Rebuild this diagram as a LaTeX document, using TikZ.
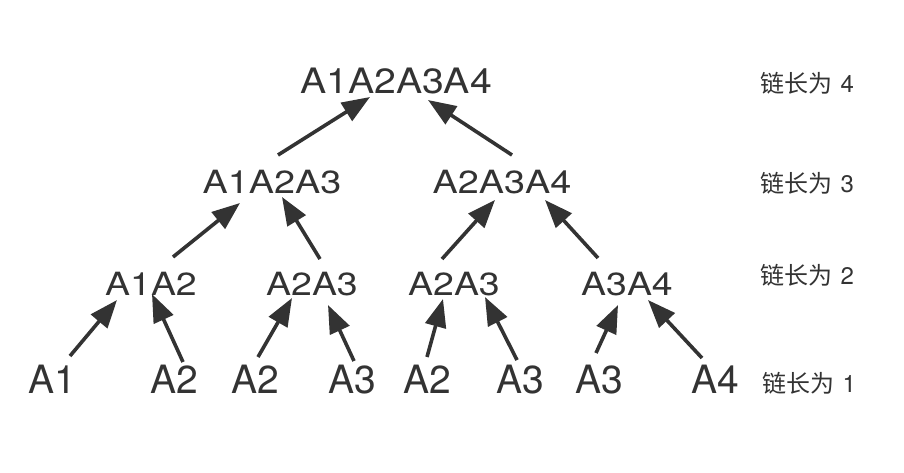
\documentclass[tikz,border=0pt]{standalone}
\usepackage{fontspec}
\setmainfont{TeX Gyre Heros}
\newfontfamily\cjk{Noto Sans CJK SC}
\usetikzlibrary{arrows.meta,calc}
\definecolor{ink}{HTML}{333333}
\newcommand{\chainlab}[1]{{\cjk 链长为}\hspace{8.5pt}{\fontsize{24}{24}\selectfont #1}}
\tikzset{
  lvl1/.style={anchor=base,inner sep=0pt,text=ink,font=\fontsize{39}{39}\selectfont},
  lvlup/.style={anchor=base,inner sep=0pt,text=ink,font=\fontsize{32}{32}\selectfont},
  lvltop/.style={anchor=base,inner sep=0pt,text=ink,font=\fontsize{35}{35}\selectfont},
  lab/.style={anchor=base west,inner sep=0pt,text=ink,font=\fontsize{24}{24}\selectfont},
  arr/.style={draw=ink,line width=3.6pt,-{Triangle[length=28pt,width=21pt]}}
}
\begin{document}
\begin{tikzpicture}[x=1pt,y=-1pt]
\useasboundingbox (0,0) rectangle (904,472);
% level 4
\node[lvltop] (t) at (396,93) {\scalebox{1.12}[1]{A1A2A3A4}};
% level 3
\node[lvlup] (m1) at (272,193) {\scalebox{1.18}[1]{A1A2A3}};
\node[lvlup] (m2) at (502,193) {\scalebox{1.18}[1]{A2A3A4}};
% level 2
\node[lvlup] (p1) at (151,295) {\scalebox{1.17}[1]{A1A2}};
\node[lvlup] (p2) at (312,295) {\scalebox{1.17}[1]{A2A3}};
\node[lvlup] (p3) at (454,295) {\scalebox{1.17}[1]{A2A3}};
\node[lvlup] (p4) at (627,295) {\scalebox{1.17}[1]{A3A4}};
% level 1
\node[lvl1] (b1) at (52,393) {A1};
\node[lvl1] (b2) at (174,393) {A2};
\node[lvl1] (b3) at (255,393) {A2};
\node[lvl1] (b4) at (352,393) {A3};
\node[lvl1] (b5) at (427,393) {A2};
\node[lvl1] (b6) at (520,393) {A3};
\node[lvl1] (b7) at (599,393) {A3};
\node[lvl1] (b8) at (715,393) {A4};
% labels
\node[lab] (l4) at (760,92) {\chainlab{4}};
\node[lab] (l3) at (760,192) {\chainlab{3}};
\node[lab] (l2) at (760,284) {\chainlab{2}};
\node[lab] (l1) at (762,392) {\chainlab{1}};
% arrows level 1 -> 2
\draw[arr] ($(b1.base)+(18,-37)$) -- ($(p1.base)+(-34,5)$);
\draw[arr] ($(b2.base)+(9,-31)$) -- ($(p1.base)+(1,-1)$);
\draw[arr] ($(b3.base)+(3,-36)$) -- ($(p2.base)+(-20,3)$);
\draw[arr] ($(b4.base)+(2,-32)$) -- ($(p2.base)+(16,10)$);
\draw[arr] ($(b5.base)+(0,-36)$) -- ($(p3.base)+(-11,4)$);
\draw[arr] ($(b6.base)+(-3,-33)$) -- ($(p3.base)+(31,2)$);
\draw[arr] ($(b7.base)+(-3,-40)$) -- ($(p4.base)+(-9,10)$);
\draw[arr] ($(b8.base)+(-13,-35)$) -- ($(p4.base)+(21,5)$);
% level 2 -> 3
\draw[arr] ($(p1.base)+(22,-38)$) -- ($(m1.base)+(-32,10)$);
\draw[arr] ($(p2.base)+(8,-36)$) -- ($(m1.base)+(10,4)$);
\draw[arr] ($(p3.base)+(-12,-36)$) -- ($(m2.base)+(-7,7)$);
\draw[arr] ($(p4.base)+(-29,-37)$) -- ($(m2.base)+(43,7)$);
% level 3 -> 4
\draw[arr] ($(m1.base)+(6,-38)$) -- ($(t.base)+(-26,4)$);
\draw[arr] ($(m2.base)+(10,-38)$) -- ($(t.base)+(32,7)$);
\end{tikzpicture}
\end{document}
